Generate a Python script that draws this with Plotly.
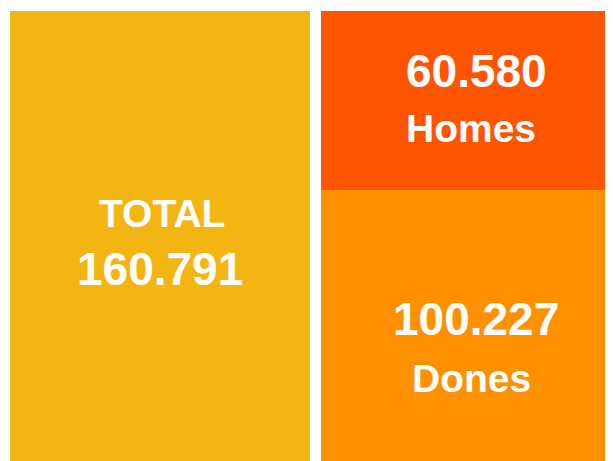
import plotly.graph_objects as go

# Data
categories = ["TOTAL", "Split"]
total_label = "TOTAL"
total_value = 160.791
part_labels = ["Dones", "Homes"]
part_values = [100.227, 60.580]
part_texts = ["100.227", "60.580"]
total_text = "160.791"

colors_total = "#F3B511"
colors_parts = ["#FF9100", "#FF5400"]

BAR_W = 0.9646
fig = go.Figure()
fig.add_trace(go.Bar(x=[0], y=[total_value], width=[BAR_W],
                     marker=dict(color=colors_total, line=dict(width=0)),
                     hoverinfo="skip", showlegend=False))
for lab, val, col in zip(part_labels, part_values, colors_parts):
    fig.add_trace(go.Bar(x=[1], y=[val], width=[BAR_W], name=lab,
                         marker=dict(color=col, line=dict(width=0)),
                         hoverinfo="skip", showlegend=False))

FONT = "Liberation Sans, Arial, Helvetica, sans-serif"
NUM_SIZE = 46
LAB_SIZE = 39

def ann(x, y, text, size, shift, xshift=0):
    fig.add_annotation(x=x, y=y, xref="x", yref="y", text="<b>" + text + "</b>",
                       showarrow=False, font=dict(family=FONT, size=size, color="white"),
                       xanchor="center", yanchor="middle", yshift=shift, xshift=xshift)

# Total
ann(0, total_value / 2, total_label, LAB_SIZE, 35, 2)
ann(0, total_value / 2, total_text, NUM_SIZE, -20)
# Parts
base = 0
shifts = {"Dones": (19, -40), "Homes": (30, -28)}
for lab, val, txt in zip(part_labels, part_values, part_texts):
    mid = base + val / 2
    s_num, s_lab = shifts[lab]
    ann(1, mid, txt, NUM_SIZE, s_num, 5)
    ann(1, mid, lab, LAB_SIZE, s_lab)
    base += val

fig.update_layout(
    width=613, height=461,
    margin=dict(l=0, r=0, t=0, b=0),
    barmode="stack",
    paper_bgcolor="white", plot_bgcolor="white",
    xaxis=dict(range=[-0.4887, 1.4823], visible=False, fixedrange=True),
    yaxis=dict(range=[5.81, 161.82], visible=False, fixedrange=True),
)
fig.write_html("out.html")
